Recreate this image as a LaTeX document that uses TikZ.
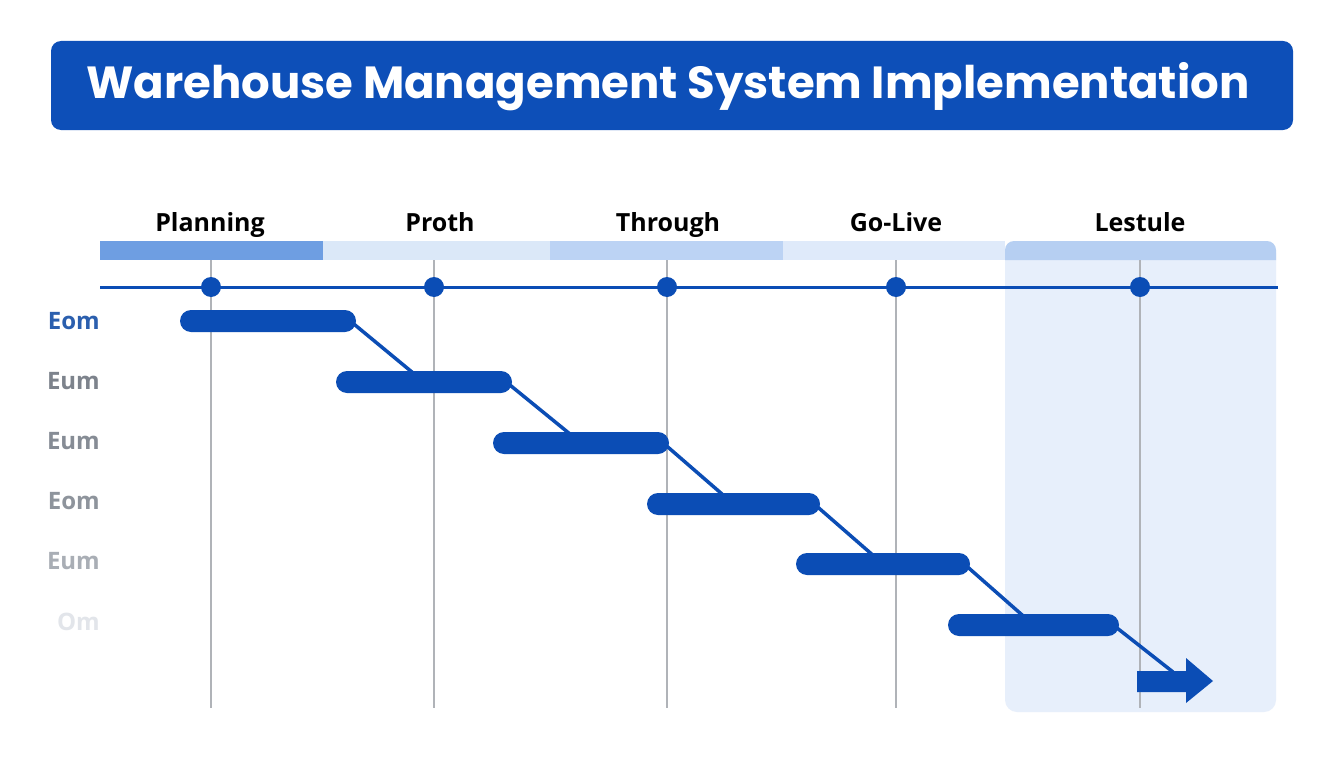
\documentclass[tikz,border=0pt]{standalone}
\usepackage{fontspec}
\setmainfont{Open Sans}
\newfontfamily\titlefont{Poppins}
\usetikzlibrary{calc}
\pgfdeclarelayer{bg}\pgfdeclarelayer{mid}\pgfsetlayers{bg,mid,main}
\definecolor{mainblue}{HTML}{0B4DB5}
\definecolor{titleblue}{HTML}{0D4FB8}
\definecolor{gridgray}{HTML}{B0B3B8}
\definecolor{hl}{HTML}{E7EFFB}
\definecolor{segA}{HTML}{6E9EE2}
\definecolor{segB}{HTML}{DBE8F8}
\definecolor{segC}{HTML}{BCD3F4}
\definecolor{segD}{HTML}{DFEAFA}
\definecolor{segE}{HTML}{B6CFF2}
\definecolor{rA}{HTML}{2B5FAE}
\definecolor{rB}{HTML}{7D838C}
\definecolor{rC}{HTML}{868C95}
\definecolor{rD}{HTML}{8E949C}
\definecolor{rE}{HTML}{A9AEB5}
\definecolor{rF}{HTML}{E2E5EA}
\tikzset{
  taskbar/.style={fill=mainblue, rounded corners=11pt, minimum width=176pt, minimum height=22pt, inner sep=0pt},
  link/.style={draw=mainblue, line width=3.5pt},
  gridline/.style={draw=gridgray, line width=2.5pt},
  milestone/.style={circle, fill=mainblue, minimum size=20pt, inner sep=0pt},
  colhead/.style={font=\bfseries\fontsize{25}{30}\selectfont, text=black, anchor=base},
  rowlab/.style={font=\bfseries\fontsize{24}{28}\selectfont, anchor=east, inner sep=0pt},
}
\begin{document}
\begin{tikzpicture}[x=1pt,y=-1pt]
\useasboundingbox (0,0) rectangle (1344,768);

\begin{pgfonlayer}{bg}
  \fill[white] (0,0) rectangle (1344,768);
  % highlight column
  \fill[hl, rounded corners=12pt] (1005,241) rectangle (1276,712);
  % header band
  \fill[segA] (100,241) rectangle (323,260);
  \fill[segB] (323,241) rectangle (550,260);
  \fill[segC] (550,241) rectangle (783,260);
  \fill[segD] (783,241) rectangle (1005,260);
  \fill[segE, rounded corners=9pt] (1005,260) |- (1276,241) [sharp corners] -- (1276,260) -- cycle;
  % grid lines
  \foreach \x in {211,434,667,896,1140} \draw[gridline] (\x,260) -- (\x,708);
  % timeline
  \draw[mainblue, line width=3pt] (100,287) -- (1278,287);
\end{pgfonlayer}

% title
\fill[titleblue, rounded corners=10pt] (51,41) rectangle (1293,130);
\node[text=white, font=\titlefont\bfseries\fontsize{45}{54}\selectfont] (title) at (668,87) {Warehouse Management System Implementation};

% milestones
\node[milestone] (m1) at (211,287) {};
\node[milestone] (m2) at (434,287) {};
\node[milestone] (m3) at (667,287) {};
\node[milestone] (m4) at (896,287) {};
\node[milestone] (m5) at (1140,287) {};

% column heads
\node[colhead] (h1) at (210,231) {Planning};
\node[colhead] (h2) at (440,231) {Proth};
\node[colhead] (h3) at (668,231) {Through};
\node[colhead] (h4) at (896,231) {Go-Live};
\node[colhead] (h5) at (1140,231) {Lestule};

% row labels
\node[rowlab, text=rA] (r1) at (100,321) {Eom};
\node[rowlab, text=rB] (r2) at (100,381) {Eum};
\node[rowlab, text=rC] (r3) at (100,441) {Eum};
\node[rowlab, text=rD] (r4) at (100,501) {Eom};
\node[rowlab, text=rE] (r5) at (100,561) {Eum};
\node[rowlab, text=rF] (r6) at (100,622) {Om};

% task bars
\node[taskbar] (b1) at (268,321) {};
\node[taskbar] (b2) at (424,382) {};
\node[taskbar] (b3) at (581,443) {};
\node[taskbar, minimum width=173pt] (b4) at (733.5,504) {};
\node[taskbar, minimum width=174pt] (b5) at (883,564) {};
\node[taskbar, minimum width=171pt] (b6) at (1033.5,625) {};

% final arrow
\fill[mainblue] (1137,671) -- (1186,671) -- (1186,658) -- (1213,681) -- (1186,703) -- (1186,692) -- (1137,692) -- cycle;
\coordinate (arr) at (1173,672);

% links
\begin{pgfonlayer}{mid}
  \draw[link] ($(b1.east)+(-6,0)$) -- (b2.center);
  \draw[link] ($(b2.east)+(-6,0)$) -- (b3.center);
  \draw[link] ($(b3.east)+(-6,0)$) -- (b4.center);
  \draw[link] ($(b4.east)+(-6,0)$) -- (b5.center);
  \draw[link] ($(b5.east)+(-6,0)$) -- (b6.center);
  \draw[link] ($(b6.east)+(-6,0)$) -- (arr);
\end{pgfonlayer}
\end{tikzpicture}
\end{document}
